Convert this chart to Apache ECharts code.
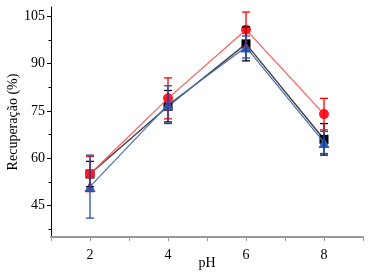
<!DOCTYPE html>
<html>
<head>
<meta charset="utf-8">
<script src="https://cdn.jsdelivr.net/npm/echarts@6/dist/echarts.min.js"></script>
<style>
  html, body { margin: 0; padding: 0; background: #fff; }
  #chart { width: 369px; height: 274px; }
</style>
</head>
<body>
<div id="chart"></div>
<script>
// pH values
var ph = [2, 4, 6, 8];
// red circles
var redMean = [55, 79, 100.8, 74];
var redErr = [5.6, 6.5, 5.6, 5];
// black squares
var blackMean = [55, 76.5, 96.3, 66];
var blackErr = [4, 5, 5.4, 5];
// blue triangles
var blueMean = [51, 77, 95.3, 65];
var blueErr = [10, 6, 3.5, 3.5];

var yLabels = [45, 60, 75, 90, 105];
var yMinor = [37.5, 52.5, 67.5, 82.5, 97.5];
var xLabels = [2, 4, 6, 8];

var font = 'Liberation Serif';

function pts(mean) {
  return ph.map(function (p, i) { return [p, mean[i]]; });
}
function bars(mean, err) {
  return ph.map(function (p, i) { return [p, mean[i] - err[i], mean[i] + err[i]]; });
}

function errSeries(mean, err, color, z) {
  return {
    type: 'custom',
    z: z,
    data: bars(mean, err),
    renderItem: function (params, api) {
      var x = api.value(0);
      var p1 = api.coord([x, api.value(2)]);
      var p2 = api.coord([x, api.value(1)]);
      var w = 4;
      var st = { stroke: color, lineWidth: 1.3 };
      return {
        type: 'group',
        children: [
          { type: 'line', shape: { x1: p1[0], y1: p1[1], x2: p2[0], y2: p2[1] }, style: st },
          { type: 'line', shape: { x1: p1[0] - w, y1: p1[1], x2: p1[0] + w, y2: p1[1] }, style: st },
          { type: 'line', shape: { x1: p2[0] - w, y1: p2[1], x2: p2[0] + w, y2: p2[1] }, style: st }
        ]
      };
    }
  };
}

var chart = echarts.init(document.getElementById('chart'));
chart.setOption({
  animation: false,
  grid: { left: 51, right: 6, top: 7, bottom: 37, outerBoundsMode: 'none' },
  xAxis: {
    type: 'value',
    min: 1,
    max: 9,
    interval: 1,
    name: 'pH',
    nameLocation: 'middle',
    nameGap: 19,
    nameMoveOverlap: false,
    nameTextStyle: { fontFamily: font, fontSize: 14, color: '#000' },
    axisLine: { lineStyle: { color: '#999', width: 2 } },
    axisTick: { lineStyle: { color: '#999' }, length: 4 },
    axisLabel: {
      fontFamily: font, fontSize: 14, color: '#000', margin: 11,
      formatter: function (v) { return xLabels.indexOf(v) >= 0 ? String(v) : ''; }
    },
    splitLine: { show: false }
  },
  yAxis: [{
    type: 'value',
    min: 35,
    max: 108,
    name: 'Recuperação (%)',
    nameLocation: 'middle',
    nameGap: 31,
    nameMoveOverlap: false,
    nameTextStyle: { fontFamily: font, fontSize: 14, color: '#000' },
    axisLine: { show: true, lineStyle: { color: '#000', width: 1 } },
    axisTick: { show: true, length: 4, lineStyle: { color: '#000' }, customValues: yLabels },
    axisLabel: { fontFamily: font, fontSize: 14, color: '#000', margin: 6, customValues: yLabels },
    splitLine: { show: false }
  }, {
    type: 'value',
    position: 'left',
    min: 35,
    max: 108,
    axisLine: { show: false },
    axisTick: { show: true, length: 2.5, lineStyle: { color: '#000' }, customValues: yMinor },
    axisLabel: { show: false },
    splitLine: { show: false }
  }],
  series: [
    {
      type: 'line', data: pts(blackMean), z: 2,
      symbol: 'rect', symbolSize: 9,
      itemStyle: { color: '#000' },
      lineStyle: { color: '#444', width: 1.5 }
    },
    {
      type: 'line', data: pts(redMean), z: 3,
      symbol: 'circle', symbolSize: 10,
      itemStyle: { color: '#ff1a2a' },
      lineStyle: { color: '#ff5a5a', width: 1.2 }
    },
    {
      type: 'line', data: pts(blueMean), z: 4,
      symbol: 'triangle', symbolSize: 11,
      itemStyle: { color: '#2e5cb8' },
      lineStyle: { color: '#4a6cb8', width: 1.2 }
    },
    errSeries(blackMean, blackErr, '#000', 5),
    errSeries(redMean, redErr, '#ff0000', 6),
    errSeries(blueMean, blueErr, '#1f4fc0', 7)
  ]
});
</script>
</body>
</html>
